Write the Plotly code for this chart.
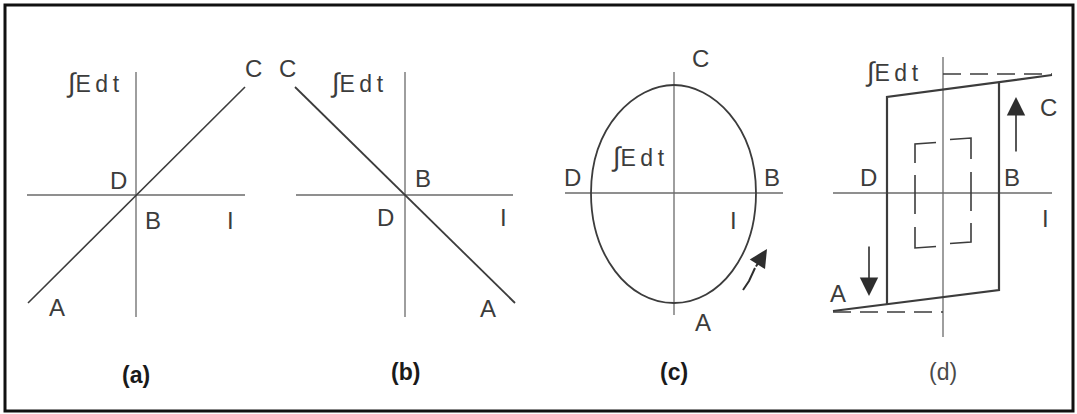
import plotly.graph_objects as go

W, H = 1077, 414
INK = "#3c3c3c"
AXIS = "#6a6a6a"

# where the I axis crosses the ∫Edt axis in each panel (page pixels)
panel_names = ["(a)", "(b)", "(c)", "(d)"]
origin_x = [136, 405, 674, 943]
origin_y = [195, 195, 193, 193]
caption_y = [375, 372, 372, 372]

# axis extents relative to the origin (y counted upwards)
axis_left = [-109, -109, -109, -110]
axis_right = [109, 108, 109, 109]
axis_bottom = [-122, -122, -122, -144]
axis_top = [123, 123, 121, 136]

# (a) straight characteristic A -> C
a_x = [-108, 109]
a_y = [-108, 108]

# (b) straight characteristic C -> A
b_x = [-110, 110]
b_y = [108, -108]

# (c) closed loop, extents around the origin
c_left, c_right, c_bottom, c_top = -83, 82, -110, 108
c_arrow_x = [69, 75, 81, 93]
c_arrow_y = [-97, -88, -75, -56]

# (d) hysteresis loop
d_lower_x = [-110, 56, 56]
d_lower_y = [-118, -97, 111]
d_upper_x = [109, -56, -56]
d_upper_y = [118, 96, -111]
d_sat_x = [0, 109, None, -110, 0]
d_sat_y = [119, 119, None, -119, -119]
d_minor_x = [-7, -28, -28, None, -28, -28, None, -28, -28, -7, None,
             7, 28, 28, None, 28, 28, None, 28, 28, 7]
d_minor_y = [50.5, 49, 30, None, 18, -21, None, -34, -55, -53.5, None,
             -50.5, -49, -30, None, -18, 21, None, 34, 55, 53.5]
d_up_x = [73, 73]
d_up_y = [40, 96]
d_down_x = [-74, -74]
d_down_y = [-52, -103]

# labels per panel: text, dx, dy
labels = [
    [("C", 117, 127), ("D", -18, 15), ("B", 17, -25), ("I", 94, -25), ("A", -79, -112)],
    [("C", -118, 127), ("B", 18, 17), ("D", -20, -22), ("I", 98, -22), ("A", 83, -113)],
    [("C", 26, 135), ("D", -102, 16), ("B", 98, 16), ("I", 59, -27), ("A", 29, -129)],
    [("C", 105, 86), ("D", -75, 16), ("B", 69, 16), ("I", 102, -25), ("A", -105, -100)],
]
integral_dx = [-43, -48, -36, -51]
integral_dy = [112, 112, 36, 121]


def to_page(i, xs, ys):
    px = [None if v is None else origin_x[i] + v for v in xs]
    py = [None if v is None else origin_y[i] - v for v in ys]
    return px, py


def line(fig, i, xs, ys, width=1.6, color=INK, dash=None):
    px, py = to_page(i, xs, ys)
    fig.add_trace(go.Scatter(
        x=px, y=py, mode="lines",
        line=dict(color=color, width=width, dash=dash),
        hoverinfo="skip", showlegend=False,
    ))


def arrow(fig, i, xs, ys, width=1.8, size=1.8):
    # shaft as a line, last segment carries a filled head
    px, py = to_page(i, xs, ys)
    if len(px) > 2:
        line(fig, i, xs[:-1], ys[:-1], width=width, color="#2e2e2e")
    fig.add_annotation(
        x=px[-1], y=py[-1], ax=px[-2], ay=py[-2],
        xref="x", yref="y", axref="x", ayref="y",
        text="", showarrow=True, arrowhead=2, arrowsize=size,
        arrowwidth=width, arrowcolor="#2e2e2e",
    )


fig = go.Figure()

# axes of every panel
for i in range(4):
    line(fig, i, [axis_left[i], axis_right[i]], [0, 0], width=1.3, color=AXIS)
    line(fig, i, [0, 0], [axis_bottom[i], axis_top[i]], width=1.3, color=AXIS)

line(fig, 0, a_x, a_y, width=1.6)
line(fig, 1, b_x, b_y, width=1.8)

# (c) egg-shaped loop as a bezier path
ox, oy = origin_x[2], origin_y[2]
L, R = ox + c_left, ox + c_right
T, B = oy - c_top, oy - c_bottom
kt, ks, kb = 0.47, 0.62, 0.56
egg = (
    f"M {L},{oy} "
    f"C {L},{oy - ks * c_top} {ox - kt * -c_left},{T} {ox},{T} "
    f"C {ox + kt * c_right},{T} {R},{oy - ks * c_top} {R},{oy} "
    f"C {R},{oy - kb * c_bottom} {ox + kb * c_right},{B} {ox},{B} "
    f"C {ox - kb * -c_left},{B} {L},{oy - kb * c_bottom} {L},{oy} Z"
)
fig.add_shape(type="path", path=egg, xref="x", yref="y",
              line=dict(color=INK, width=1.8))
arrow(fig, 2, c_arrow_x, c_arrow_y, width=2.0, size=1.8)

# (d) loops, saturation lines and minor loop
line(fig, 3, d_lower_x, d_lower_y, width=2.2)
line(fig, 3, d_upper_x, d_upper_y, width=2.2)
line(fig, 3, d_sat_x, d_sat_y, width=1.6, dash="18px,9px")
line(fig, 3, d_minor_x, d_minor_y, width=1.6)
arrow(fig, 3, d_up_x, d_up_y, width=1.6, size=2.3)
arrow(fig, 3, d_down_x, d_down_y, width=1.6, size=2.3)

# labels
for i in range(4):
    for text, dx, dy in labels[i]:
        fig.add_annotation(
            x=origin_x[i] + dx, y=origin_y[i] - dy, text=text, showarrow=False,
            font=dict(family="Liberation Sans, Arial", size=24, color=INK),
            xanchor="center", yanchor="middle",
        )
    fig.add_annotation(
        x=origin_x[i] + integral_dx[i], y=origin_y[i] - integral_dy[i],
        text="<span style='font-size:27px'>∫</span>E\u2009d\u2009t",
        showarrow=False,
        font=dict(family="Liberation Sans, Arial", size=23, color=INK),
        xanchor="center", yanchor="middle",
    )
    caption = panel_names[i] if i == 3 else f"<b>{panel_names[i]}</b>"
    fig.add_annotation(
        x=origin_x[i], y=caption_y[i], text=caption, showarrow=False,
        font=dict(family="Liberation Sans, Arial", size=23,
                  color="#4a4a4a" if i == 3 else "#1a1a1a"),
        xanchor="center", yanchor="middle",
    )

# outer frame
fig.add_shape(type="rect", xref="x", yref="y", x0=5, x1=1073, y0=5, y1=411,
              line=dict(color="#111111", width=3))

fig.update_layout(
    width=W, height=H,
    margin=dict(l=0, r=0, t=0, b=0),
    paper_bgcolor="white", plot_bgcolor="white",
    xaxis=dict(range=[0, W], visible=False, fixedrange=True),
    yaxis=dict(range=[H, 0], visible=False, fixedrange=True),
    showlegend=False,
)

fig.write_html("out.html", config={"displayModeBar": False},
               post_script="document.body.style.margin = '0';")
